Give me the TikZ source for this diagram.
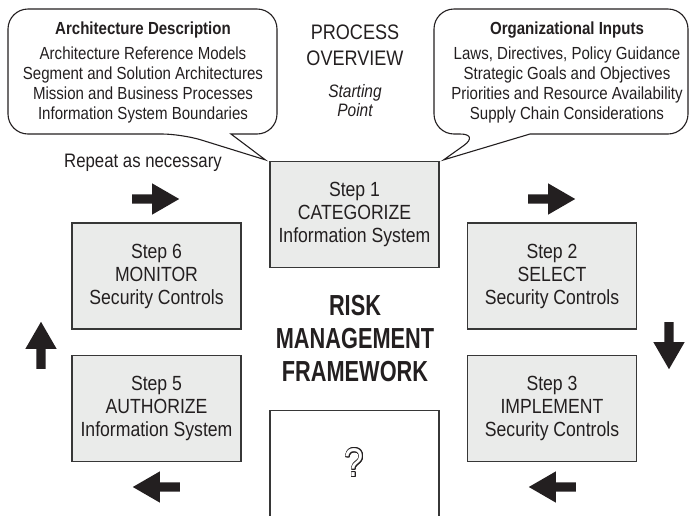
\documentclass[tikz,border=0pt]{standalone}
\usepackage{fontspec}
\setmainfont{Liberation Sans}[FakeStretch=0.86]
\newfontfamily\headfont{Liberation Sans}[FakeStretch=0.75]
\usepackage[copies]{contour}
\usetikzlibrary{positioning, shapes.arrows, calc}

\definecolor{boxgray}{RGB}{234,235,234}
\definecolor{linegray}{RGB}{55,55,55}
\definecolor{inkblack}{RGB}{35,31,32}
\contourlength{0.7pt}

\tikzset{
    stepbox/.style={draw=linegray, line width=1.3pt, fill=boxgray, minimum width=169pt,
        minimum height=106pt, inner sep=0pt, align=center, text=inkblack,
        font=\fontsize{20.5}{23}\selectfont},
    flowarrow/.style={single arrow, fill=inkblack, draw=none, minimum height=47pt,
        minimum width=31pt, single arrow head extend=11pt, single arrow tip angle=60,
        inner sep=4.5pt, anchor=tail},
    callout/.style={draw=inkblack, line width=1.1pt},
    bubbletext/.style={align=center, text=inkblack, font=\fontsize{17.5}{20}\selectfont},
}

\begin{document}
\begin{tikzpicture}[x=1pt, y=-1pt]
    \useasboundingbox (0,0) rectangle (689,515);

    % steps
    \node[stepbox] (step1) at (354.5,214.5) {Step 1\\CATEGORIZE\\Information System};
    \node[stepbox] (step6) at (156.5,276) {Step 6\\MONITOR\\Security Controls};
    \node[stepbox, below=25pt of step6] (step5) {Step 5\\AUTHORIZE\\Information System};
    \node[stepbox] (step2) at (552,276) {Step 2\\SELECT\\Security Controls};
    \node[stepbox, below=25pt of step2] (step3) {Step 3\\IMPLEMENT\\Security Controls};
    \node[stepbox, fill=white, minimum height=120pt, anchor=north] (stepq) at (354.5,410) {};
    \node[text=white, font=\fontsize{40}{40}\selectfont] (qmark) at (354.5,463)
        {\contour{inkblack}{?}};

    % arrows
    \node[flowarrow] (arr61) at (132,199) {};
    \node[flowarrow] (arr12) at (528,199) {};
    \node[flowarrow, shape border rotate=270] (arr23) at (669,322) {};
    \node[flowarrow, shape border rotate=180] (arr34) at (576,487) {};
    \node[flowarrow, shape border rotate=180] (arr45) at (180,487) {};
    \node[flowarrow, shape border rotate=90] (arr56) at (41,369) {};

    % headings
    \node[align=center, text=inkblack, font=\headfont\bfseries\fontsize{29}{33}\selectfont]
        (rmf) at (355,339) {RISK\\MANAGEMENT\\FRAMEWORK};
    \node[align=center, text=inkblack, font=\fontsize{21}{26}\selectfont]
        (overview) at (355,45) {PROCESS\\OVERVIEW};
    \node[align=center, text=inkblack, font=\itshape\fontsize{18}{19}\selectfont]
        (start) at (355,101) {Starting\\Point};
    \node[text=inkblack, font=\fontsize{19.5}{22}\selectfont] (repeat) at (143,163) {Repeat as necessary};

    % callouts
    \node[bubbletext] (archdesc) at (143,72) {\textbf{Architecture Description}\\[5pt]
        Architecture Reference Models\\ Segment and Solution Architectures\\
        Mission and Business Processes\\ Information System Boundaries};
    \node[bubbletext] (orginputs) at (567,72) {\textbf{Organizational Inputs}\\[5pt]
        Laws, Directives, Policy Guidance\\ Strategic Goals and Objectives\\
        Priorities and Resource Availability\\ Supply Chain Considerations};
    \coordinate (tipL) at ($(step1.north west)+(-4,-1)$);
    \coordinate (tipR) at ($(step1.north east)+(4,-1)$);
    \draw[callout, rounded corners=20pt] (142,9) -- (8,9) -- (8,134) -- (182,134)
        [sharp corners] -- (tipL) -- (231,134) [rounded corners=20pt] -- (277,134) -- (277,9) -- cycle;
    \draw[callout, rounded corners=20pt] (561,9) -- (434,9) -- (434,134) -- (480,134)
        [sharp corners] -- (tipR) -- (530,134) [rounded corners=20pt] -- (688,134) -- (688,9) -- cycle;
\end{tikzpicture}
\end{document}
